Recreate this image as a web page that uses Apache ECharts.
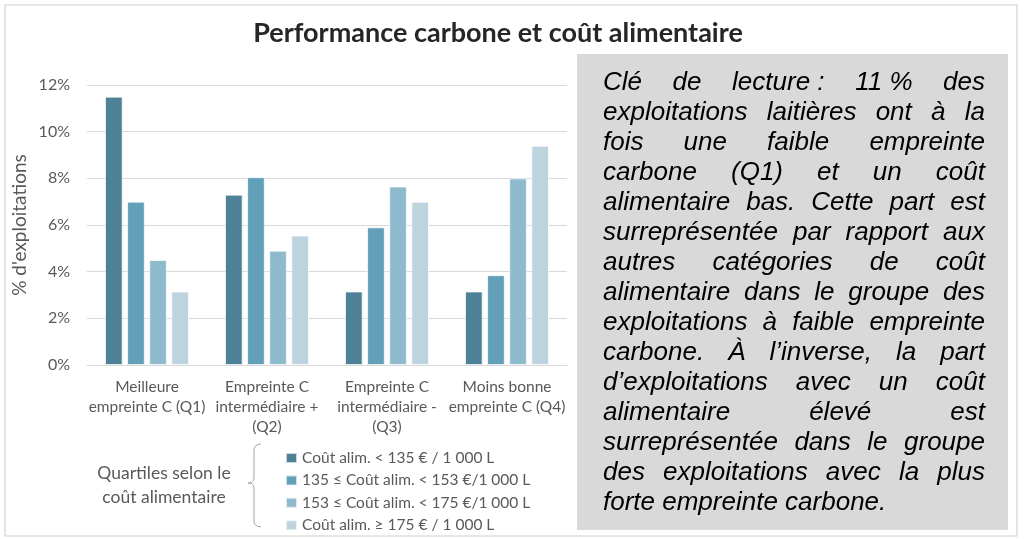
<!DOCTYPE html>
<html>
<head>
<meta charset="utf-8">
<script src="https://cdn.jsdelivr.net/npm/echarts@6/dist/echarts.min.js"></script>
<style>
html,body{margin:0;padding:0;background:#fff;}
#chart{width:1024px;height:539px;}
</style>
</head>
<body>
<div id="chart"></div>
<script>
const titleText = 'Performance carbone et coût alimentaire';
const categories = [
  'Meilleure\nempreinte C (Q1)',
  'Empreinte C\nintermédiaire +\n(Q2)',
  'Empreinte C\nintermédiaire -\n(Q3)',
  'Moins bonne\nempreinte C (Q4)'
];
const seriesNames = [
  'Coût alim. < 135 € / 1 000 L',
  '135 ≤ Coût alim. < 153 €/1 000 L',
  '153 ≤ Coût alim. < 175 €/1 000 L',
  'Coût alim. ≥ 175 € / 1 000 L'
];
const costQ1 = [11.5, 7.3, 3.15, 3.15];
const costQ2 = [7.0, 8.05, 5.9, 3.85];
const costQ3 = [4.5, 4.9, 7.65, 8.0];
const costQ4 = [3.15, 5.55, 7.0, 9.4];
const yTicks = [0, 2, 4, 6, 8, 10, 12];
const colors = ['#4f8196', '#629fb8', '#8fbacd', '#bdd4df'];
const yAxisName = "% d'exploitations";
const groupLabel = 'Quartiles selon le\ncoût alimentaire';
const noteLines = [
  'Clé de lecture\u00a0: 11\u00a0% des',
  'exploitations laitières ont à la',
  'fois une faible empreinte',
  'carbone (Q1) et un coût',
  'alimentaire bas. Cette part est',
  'surreprésentée par rapport aux',
  'autres catégories de coût',
  'alimentaire dans le groupe des',
  'exploitations à faible empreinte',
  'carbone. À l’inverse, la part',
  'd’exploitations avec un coût',
  'alimentaire élevé est',
  'surreprésentée dans le groupe',
  'des exploitations avec la plus',
  'forte empreinte carbone.'
];

const FONT = 'Lato, "Noto Sans", sans-serif';
const GREY = '#595959';

const chart = echarts.init(document.getElementById('chart'));

// Justified note text
const noteFont = 'italic 26px "Liberation Sans", Arial, sans-serif';
const noteLeft = 603, noteRight = 985, noteTop = 83, noteStep = 30;
const ctx = document.createElement('canvas').getContext('2d');
ctx.font = noteFont;
const noteElements = [];
noteLines.forEach(function (line, i) {
  const words = line.split(' ');
  const widths = words.map(function (w) { return ctx.measureText(w).width; });
  const total = widths.reduce(function (a, b) { return a + b; }, 0);
  const last = i === noteLines.length - 1;
  const gap = (last || words.length < 2) ? ctx.measureText(' ').width
    : (noteRight - noteLeft - total) / (words.length - 1);
  let x = noteLeft;
  words.forEach(function (w, k) {
    noteElements.push({
      type: 'text', z: 20,
      style: {
        text: w, x: x, y: noteTop + i * noteStep,
        font: noteFont, fill: '#000',
        textAlign: 'left', textVerticalAlign: 'middle'
      }
    });
    x += widths[k] + gap;
  });
});

const seriesData = [costQ1, costQ2, costQ3, costQ4];

const option = {
  animation: false,
  backgroundColor: '#fff',
  title: {
    text: titleText,
    left: 498, top: 33,
    textAlign: 'center', textVerticalAlign: 'middle',
    padding: 0,
    textStyle: { fontFamily: FONT, fontSize: 27, fontWeight: 'bold', color: '#262626' }
  },
  grid: { left: 87, right: 457, top: 85, bottom: 174, containLabel: false },
  legend: {
    orient: 'vertical', left: 280, top: 445,
    icon: 'rect', itemWidth: 11, itemHeight: 10, itemGap: 6.4,
    data: seriesNames,
    textStyle: { fontFamily: FONT, fontSize: 15.5, color: GREY, lineHeight: 16 }
  },
  xAxis: {
    type: 'category', data: categories,
    axisTick: { show: false },
    axisLine: { lineStyle: { color: '#d9d9d9', width: 1 } },
    axisLabel: { fontFamily: FONT, fontSize: 15.5, color: GREY, lineHeight: 20, margin: 12, interval: 0 }
  },
  yAxis: {
    type: 'value', min: yTicks[0], max: yTicks[yTicks.length - 1], interval: 2,
    name: yAxisName, nameLocation: 'middle', nameRotate: 90, nameGap: 58,
    nameTextStyle: { fontFamily: FONT, fontSize: 19, color: GREY },
    axisLine: { show: false }, axisTick: { show: false },
    splitLine: { lineStyle: { color: '#d9d9d9', width: 1 } },
    axisLabel: { fontFamily: FONT, fontSize: 16, color: GREY, margin: 17, formatter: '{value}%' }
  },
  series: seriesNames.map(function (name, i) {
    return {
      name: name, type: 'bar', data: seriesData[i],
      barCategoryGap: '30%', barGap: '25%',
      itemStyle: { color: colors[i], borderColor: 'rgba(255,255,255,0.7)', borderWidth: 1 }
    };
  }),
  graphic: [
    {
      type: 'rect', z: 0, silent: true,
      shape: { x: 5, y: 5, width: 1012, height: 531 },
      style: { fill: 'none', stroke: '#d0d0d0', lineWidth: 1.2 }
    },
    {
      type: 'rect', z: 10, silent: true,
      shape: { x: 577, y: 54, width: 431, height: 476 },
      style: { fill: '#d9d9d9' }
    },
    {
      type: 'polyline', z: 10, silent: true,
      shape: { points: [[261,444],[257.5,444.7],[255,446.5],[254,449],[254,478],[253.4,480.8],[251.6,482.5],[248,483],[251.6,483.5],[253.4,485.2],[254,488],[254,522],[255,524.5],[257.5,526.3],[261,527]] },
      style: { fill: 'none', stroke: '#a6a6a6', lineWidth: 1 }
    },
    {
      type: 'text', z: 10,
      style: {
        text: groupLabel, x: 164, y: 485,
        font: '17.5px ' + FONT, fill: GREY, lineHeight: 24,
        textAlign: 'center', textVerticalAlign: 'middle'
      }
    }
  ].concat(noteElements)
};
chart.setOption(option);
</script>
</body>
</html>
